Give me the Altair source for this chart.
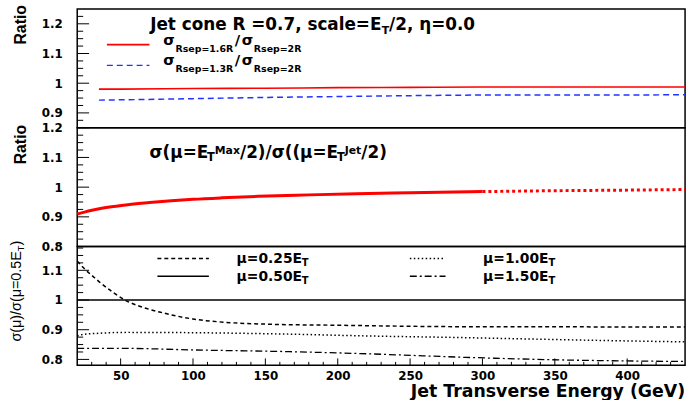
import altair as alt
import pandas as pd

# ---------------- data ----------------
# panel 1 : sigma(Rsep=1.6R)/sigma(Rsep=2R) and sigma(Rsep=1.3R)/sigma(Rsep=2R)
et_rsep = [35, 50, 100, 150, 200, 250, 300, 350, 440]
rsep16_over_2r = [0.980, 0.980, 0.982, 0.983, 0.985, 0.986, 0.987, 0.987, 0.987]
rsep13_over_2r = [0.943, 0.944, 0.948, 0.952, 0.955, 0.958, 0.960, 0.960, 0.961]

# panel 2 : sigma(mu=ETmax/2)/sigma(mu=ETjet/2)
et_max_solid = [20, 25, 31, 36, 45, 55, 70, 85, 100, 120, 145, 180, 213, 250, 300]
ratio_max_solid = [0.909, 0.916, 0.923, 0.928, 0.935, 0.941, 0.948, 0.954, 0.959,
                   0.964, 0.969, 0.974, 0.978, 0.981, 0.985]
et_max_dotted = [300, 350, 400, 440]
ratio_max_dotted = [0.985, 0.988, 0.990, 0.992]

# panel 3 : sigma(mu)/sigma(mu=0.5 ET)
et_mu025 = [20, 25, 32, 36, 45, 53, 65, 79, 100, 122, 156, 200, 260, 300, 350, 400, 440]
mu025 = [1.131, 1.105, 1.075, 1.058, 1.025, 1.000, 0.976, 0.957, 0.936, 0.925,
         0.918, 0.915, 0.911, 0.910, 0.910, 0.909, 0.909]
et_mu050 = [20, 440]
mu050 = [1.0, 1.0]
et_mu100 = [20, 24, 35, 54, 99, 167, 220, 280, 330, 380, 440]
mu100 = [0.879, 0.884, 0.888, 0.891, 0.890, 0.885, 0.879, 0.874, 0.869, 0.864, 0.859]
et_mu150 = [20, 54, 99, 167, 220, 288, 357, 440]
mu150 = [0.837, 0.837, 0.832, 0.826, 0.819, 0.807, 0.798, 0.793]

# axes
x_domain = [20, 440]
x_major = [50, 100, 150, 200, 250, 300, 350, 400]
x_minor = [v for v in range(30, 440, 10) if v % 50]
p1_domain = [0.85, 1.25]
p1_major = [0.9, 1.0, 1.1, 1.2]
p1_minor = [round(0.85 + 0.025 * i, 3) for i in range(1, 16) if i % 4 != 2]
p2_domain = [0.8, 1.2]
p2_major = [0.8, 0.9, 1.0, 1.1, 1.2]
p2_minor = [round(0.8 + 0.025 * i, 3) for i in range(1, 16) if i % 4 != 0]
p3_domain = [0.78, 1.18]
p3_major = [0.8, 0.9, 1.0, 1.1]
p3_minor = [round(0.8 + 0.025 * i, 3) for i in range(1, 16) if i % 4 != 0]

W = 614
H = 120
BOLD = "DejaVu Sans"
ROT = "Liberation Sans"

DJB = {' ': .348, '(': .457, ')': .457, ',': .380, '.': .380, '/': .365, '=': .838,
       'E': .683, 'J': .372, 'M': .995, 'R': .770, 'T': .682, 'G': .821, 'V': .774,
       'a': .675, 'c': .593, 'e': .678, 'l': .343, 'n': .712, 'o': .687, 'p': .716,
       's': .595, 't': .478, 'x': .645, 'σ': .72, 'μ': .72, 'η': .712}
LIB = {'(': .333, ')': .333, '/': .278, '=': .584, '.': .278, 'E': .667, 'T': .611,
       'σ': .60, 'μ': .576}


def text_width(s, size, table):
    w = 0.0
    for c in s:
        if c.isdigit():
            w += .696 if table is DJB else .556
        else:
            w += table.get(c, .65)
    return w * size


def label(s, x, y, size, font=BOLD, weight="bold", align="left", angle=None, color="black"):
    kw = dict(align=align, baseline="alphabetic", font=font, fontSize=size,
              fontWeight=weight, color=color)
    if angle:
        kw["angle"] = angle
    return alt.Chart(pd.DataFrame({"t": [s]})).mark_text(**kw).encode(
        x=alt.value(x), y=alt.value(y), text="t:N")


def chain(parts, x0, y0, table=DJB, font=BOLD, weight="bold", angle=None, gap=0.0):
    out = []
    x, y = x0, y0
    for s, size, d in parts:
        if angle:
            out.append(label(s, x0 + d, y, size, font, weight, angle=angle))
            y -= text_width(s, size, table) + gap
        else:
            out.append(label(s, x, y0 + d, size, font, weight))
            x += text_width(s, size, table) + gap
    return out


def sample(x1, x2, y, **style):
    return alt.Chart(pd.DataFrame({"a": [0]})).mark_rule(**style).encode(
        x=alt.value(x1), x2=alt.value(x2), y=alt.value(y))


def yaxis(major):
    return alt.Axis(values=major, format=".1~f", labelFont=BOLD, labelFontSize=12,
                    labelFontWeight="bold", labelColor="black", ticks=False, tickSize=0,
                    domain=False, grid=False, title=None, labelPadding=15,
                    labelOverlap=False, labelFlush=False)


xaxis_bottom = alt.Axis(values=x_major, format="d", labelFont=BOLD, labelFontSize=12,
                        labelFontWeight="bold", labelColor="black", ticks=False, tickSize=0,
                        domain=False, grid=False, title=None, labelPadding=5,
                        labelOverlap=False, labelFlush=False)


def line(et, vals, xaxis, ydomain, yax, **mk):
    df = pd.DataFrame({"et": et, "v": vals})
    return alt.Chart(df).mark_line(interpolate="monotone", **mk).encode(
        x=alt.X("et:Q", scale=alt.Scale(domain=x_domain, nice=False, zero=False), axis=xaxis),
        y=alt.Y("v:Q", scale=alt.Scale(domain=ydomain, nice=False, zero=False), axis=yax))


def yticks(vals, ydomain, yax, length):
    return alt.Chart(pd.DataFrame({"v": vals})).mark_rule(color="black", strokeWidth=1).encode(
        y=alt.Y("v:Q", scale=alt.Scale(domain=ydomain, nice=False, zero=False), axis=yax),
        x=alt.value(0), x2=alt.value(length))


def xticks(vals, length):
    return alt.Chart(pd.DataFrame({"v": vals})).mark_rule(color="black", strokeWidth=1).encode(
        x=alt.X("v:Q", scale=alt.Scale(domain=x_domain, nice=False, zero=False), axis=xaxis_bottom),
        y=alt.value(H), y2=alt.value(H - length))


# ---------------- panel 1 ----------------
ya1 = yaxis(p1_major)
anchor = alt.Chart(pd.DataFrame({"a": [0]})).mark_rule(opacity=0).encode(
    x=alt.value(-77), x2=alt.value(-77), y=alt.value(-6), y2=alt.value(-6))
p1_layers = [
    anchor,
    line(et_rsep, rsep16_over_2r, None, p1_domain, ya1, color="#ff0000", strokeWidth=1.6),
    line(et_rsep, rsep13_over_2r, None, p1_domain, ya1, color="#2233ff", strokeWidth=1.5,
         strokeDash=[6, 4]),
    yticks(p1_major, p1_domain, ya1, 12),
    yticks(p1_minor, p1_domain, ya1, 6),
    label("Ratio", -52, -4, 16, font=ROT, align="right", angle=270),
    sample(30, 73, 36, color="#ff0000", strokeWidth=1.6),
    sample(30, 73, 57, color="#2233ff", strokeWidth=1.5, strokeDash=[6, 4]),
]
p1_layers += chain([("Jet cone R =0.7, scale=E", 17, 0), ("T", 11, 4), ("/2, η=0.0", 17, 0)], 73.7, 21)
p1_layers += chain([("σ", 15, 0), ("Rsep=1.6R", 9.5, 7), ("/", 15, 0), ("σ", 15, 0), ("Rsep=2R", 9.5, 7)],
                   87, 36, gap=1.5)
p1_layers += chain([("σ", 15, 0), ("Rsep=1.3R", 9.5, 7), ("/", 15, 0), ("σ", 15, 0), ("Rsep=2R", 9.5, 7)],
                   87, 57, gap=1.5)
panel1 = alt.layer(*p1_layers).properties(width=W, height=H)

# ---------------- panel 2 ----------------
ya2 = yaxis(p2_major)
p2_layers = [
    line(et_max_solid, ratio_max_solid, None, p2_domain, ya2, color="#ff0000", strokeWidth=3),
    line(et_max_dotted, ratio_max_dotted, None, p2_domain, ya2, color="#ff0000", strokeWidth=3,
         strokeDash=[3, 3]),
    yticks(p2_major, p2_domain, ya2, 12),
    yticks(p2_minor, p2_domain, ya2, 6),
    label("Ratio", -52, -3, 16, font=ROT, align="right", angle=270),
]
p2_layers += chain([("σ(μ=E", 17, 0), ("T", 11.5, 3), ("Max", 11, -4), ("/2)/σ((μ=E", 17, 0),
                    ("T", 11.5, 3), ("Jet", 11, -4), ("/2)", 17, 0)], 73, 30.7)
panel2 = alt.layer(*p2_layers).properties(width=W, height=H)

# ---------------- panel 3 ----------------
ya3 = yaxis(p3_major)
p3_layers = [
    line(et_mu050, mu050, xaxis_bottom, p3_domain, ya3, color="black", strokeWidth=1.4),
    line(et_mu025, mu025, xaxis_bottom, p3_domain, ya3, color="black", strokeWidth=1.5,
         strokeDash=[4, 3]),
    line(et_mu100, mu100, xaxis_bottom, p3_domain, ya3, color="black", strokeWidth=1.5,
         strokeDash=[1.5, 2.5]),
    line(et_mu150, mu150, xaxis_bottom, p3_domain, ya3, color="black", strokeWidth=1.3,
         strokeDash=[7, 3, 2, 3]),
    yticks(p3_major, p3_domain, ya3, 12),
    yticks(p3_minor, p3_domain, ya3, 6),
    xticks(x_major, 7),
    xticks(x_minor, 3.5),
    sample(81, 133, 12, color="black", strokeWidth=1.5, strokeDash=[4, 3]),
    sample(81, 133, 30, color="black", strokeWidth=1.4),
    sample(336, 372, 12, color="black", strokeWidth=1.5, strokeDash=[1.5, 2.5]),
    sample(336, 372, 30, color="black", strokeWidth=1.3, strokeDash=[7, 3, 2, 3]),
    label("Jet Transverse Energy (GeV)", 614, 152, 17.5, align="right"),
]
p3_layers += chain([("μ=0.25E", 14, 0), ("T", 10, 3)], 161, 17)
p3_layers += chain([("μ=0.50E", 14, 0), ("T", 10, 3)], 161, 35)
p3_layers += chain([("μ=1.00E", 14, 0), ("T", 10, 3)], 410, 17)
p3_layers += chain([("μ=1.50E", 14, 0), ("T", 10, 3)], 410, 35)
p3_layers += chain([("σ(μ)/σ(μ=0.5E", 14.5, 0), ("T", 10, 3), (")", 14.5, 0)], -57, 96,
                   table=LIB, font=ROT, weight="normal", angle=270)
panel3 = alt.layer(*p3_layers).properties(width=W, height=H)

chart = alt.vconcat(panel1, panel2, panel3, spacing=0, bounds="flush").properties(
    padding=0, background="white"
).configure_view(stroke="black", strokeWidth=1.5)

chart.save("out.html", embed_options={"renderer": "svg", "actions": False})
